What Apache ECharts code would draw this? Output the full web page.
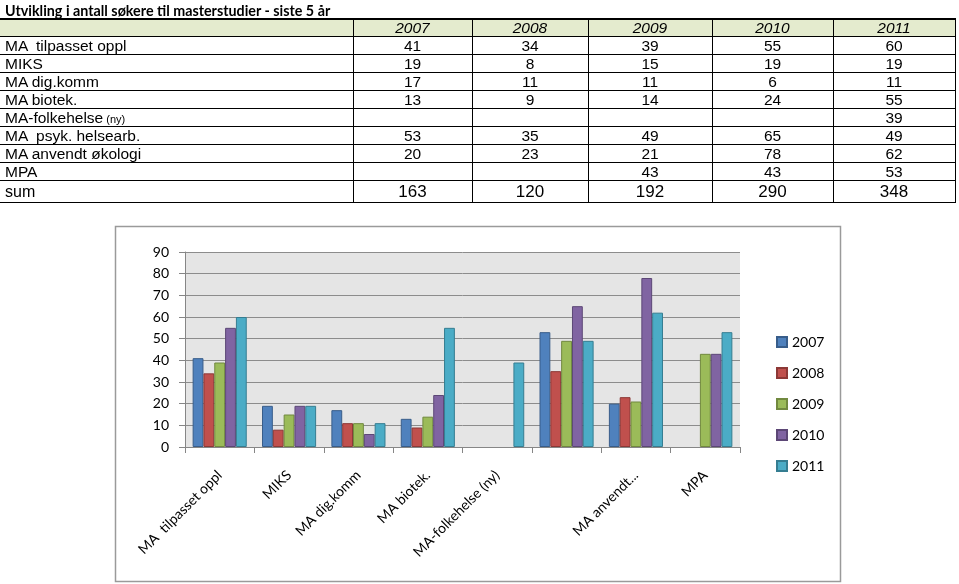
<!DOCTYPE html>
<html><head><meta charset="utf-8">
<script src="https://cdn.jsdelivr.net/npm/echarts@6/dist/echarts.min.js"></script>
<style>
html,body{margin:0;padding:0;width:959px;height:584px;background:#fff;overflow:hidden}
#chart{position:absolute;left:0;top:0;width:959px;height:584px;z-index:0}
#title{position:absolute;left:5px;top:2px;font-family:Lato;font-weight:bold;font-size:14.3px;color:#000;white-space:pre;z-index:2}
#tbl{position:absolute;left:0;top:18px;border-collapse:collapse;font-family:"Liberation Sans",Arial,sans-serif;z-index:2;table-layout:fixed}
#tbl td{padding:0;border:1px solid #000;white-space:pre;line-height:1;font-size:15.5px;text-align:center;vertical-align:middle;overflow:hidden}
#tbl td.lab{text-align:left;padding-left:5px;border-left:none}
#tbl tr.hdr td{font-style:italic;background:#e4ebce;height:16px}
#tbl tr.hdr td.lab{background:#e4ebce}
#tbl tr.row td{height:17px}
#tbl tr.sum td{height:21px;font-size:17px}
#tbl tr.sum td.lab{font-size:16px}
#tbl tr.hdr td{border-top:2px solid #000}
.small{font-size:11px}
</style>
</head><body>
<div id="chart"></div>
<div id="title">Utvikling i antall søkere til masterstudier - siste 5 år</div>
<table id="tbl"></table>
<script>
const years = ['2007','2008','2009','2010','2011'];
const categories = ['MA  tilpasset oppl','MIKS','MA dig.komm','MA biotek.','MA-folkehelse (ny)','MA  psyk. helsearb.','MA anvendt økologi','MPA'];
const axisLabels = ['MA  tilpasset oppl','MIKS','MA dig.komm','MA biotek.','MA-folkehelse (ny)','','MA anvendt...','MPA'];
const v2007 = [41,19,17,13,null,53,20,null];
const v2008 = [34,8,11,9,null,35,23,null];
const v2009 = [39,15,11,14,null,49,21,43];
const v2010 = [55,19,6,24,null,65,78,43];
const v2011 = [60,19,11,55,39,49,62,53];
const sums = [163,120,192,290,348];
const yTicks = [0,10,20,30,40,50,60,70,80,90];

const seriesValues = [v2007,v2008,v2009,v2010,v2011];
const colors = ['#4f81bd','#c0504d','#9bbb59','#8064a2','#4bacc6'];
const borders = ['#385d8a','#8c3836','#71893f','#5c4776','#357d91'];
const colWidths = [348,119,116,124,121,122];

// build table
const tbl = document.getElementById('tbl');
const cg = document.createElement('colgroup');
colWidths.forEach((w,i)=>{const c=document.createElement('col');c.style.width=(w+(i===0?5:0))+'px';cg.appendChild(c);});
tbl.appendChild(cg);
function addRow(cls,label,vals){
  const tr=document.createElement('tr');tr.className=cls;
  const td=document.createElement('td');td.className='lab';
  const m = label.match(/^(.*?)(\s\(ny\))$/);
  if(m){td.textContent=m[1];const s=document.createElement('span');s.className='small';s.textContent=m[2];td.appendChild(s);}
  else td.textContent=label;
  tr.appendChild(td);
  vals.forEach(v=>{const c=document.createElement('td');c.textContent=(v===null||v===undefined)?'':String(v);tr.appendChild(c);});
  tbl.appendChild(tr);
}
addRow('hdr','',years);
categories.forEach((c,i)=>addRow('row',c,seriesValues.map(s=>s[i])));
addRow('sum','sum',sums);

const chart = echarts.init(document.getElementById('chart'),null,{renderer:'canvas'});
chart.setOption({
  animation:false,
  graphic:[{type:'rect',shape:{x:115.5,y:226.5,width:725,height:355},style:{fill:'none',stroke:'#9a9a9a',lineWidth:1.5},z:-1}],
  grid:{left:185,top:252,width:555,height:195,show:true,backgroundColor:'#e5e5e5',borderWidth:0},
  legend:{orient:'vertical',left:776,top:335,padding:0,itemWidth:10,itemHeight:10,itemGap:17,itemTextGap:4,icon:'rect',
    textStyle:{fontFamily:'Lato',fontSize:14,color:'#000'},data:years},
  xAxis:{type:'category',data:categories,
    axisLine:{lineStyle:{color:'#868686',width:1}},
    axisTick:{show:true,length:6,alignWithLabel:false,lineStyle:{color:'#868686'}},
    axisLabel:{interval:0,rotate:45,margin:26,fontFamily:'Lato',fontSize:14,color:'#000',formatter:(v,i)=>axisLabels[i]},
    splitLine:{show:false}},
  yAxis:{type:'value',min:yTicks[0],max:yTicks[yTicks.length-1],interval:10,
    axisLine:{show:true,lineStyle:{color:'#868686'}},
    axisTick:{show:true,length:6,lineStyle:{color:'#868686'}},
    axisLabel:{margin:16,fontFamily:'Lato',fontSize:14,color:'#000'},
    splitLine:{lineStyle:{color:'#8c8c8c',width:1}}},
  series:years.map((y,i)=>({name:y,type:'bar',data:seriesValues[i],barGap:'0%',barCategoryGap:'22%',
    itemStyle:{color:colors[i],borderColor:borders[i],borderWidth:1}}))
});
</script>
</body></html>
